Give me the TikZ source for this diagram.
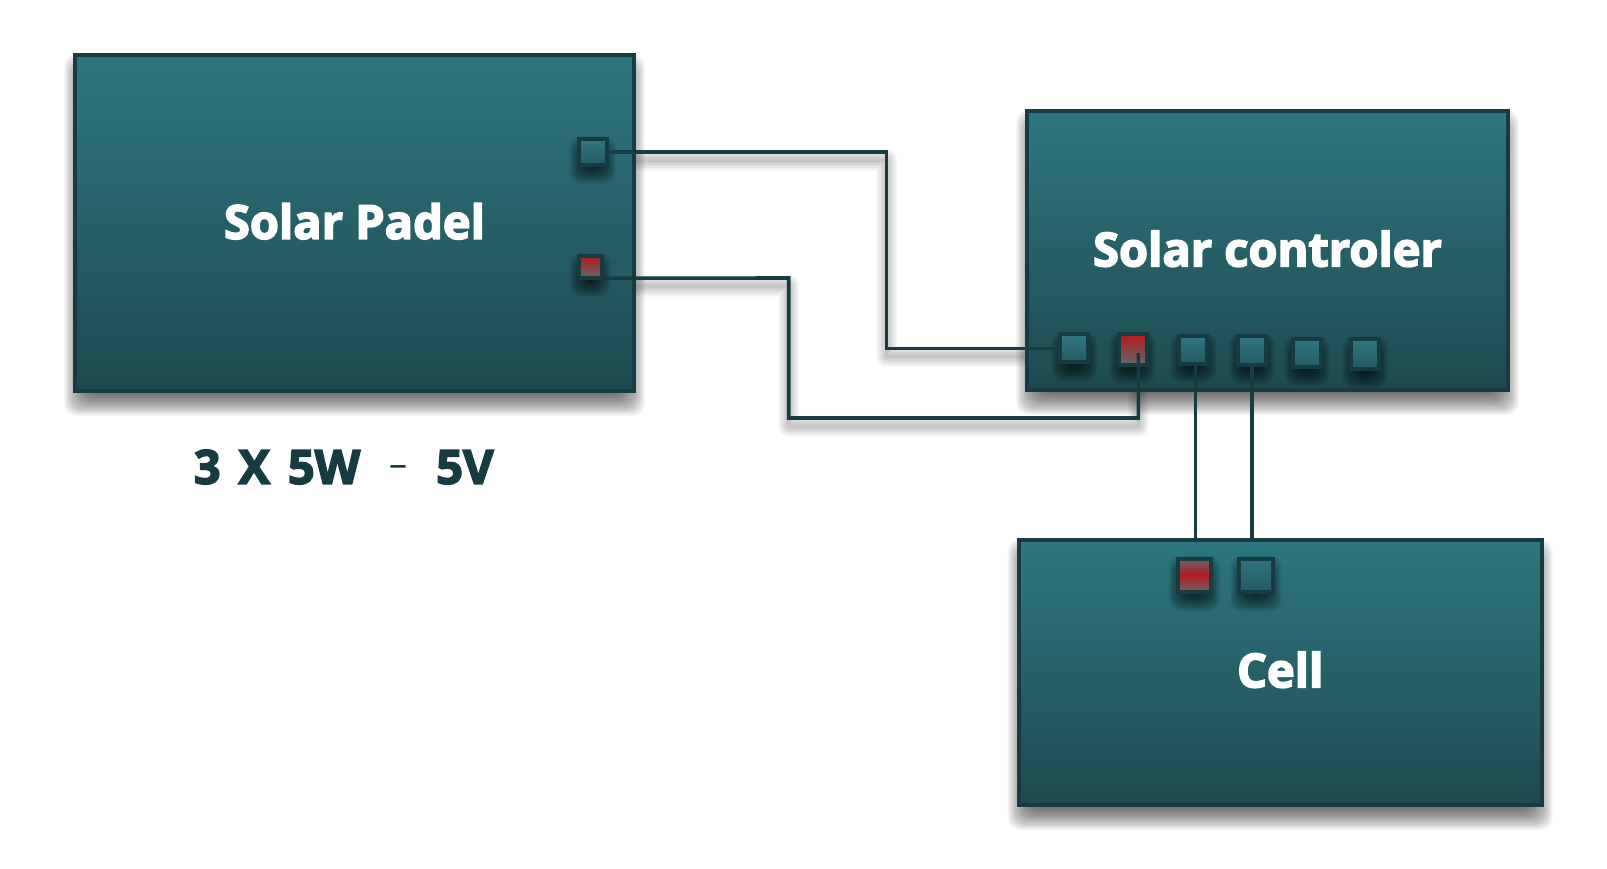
\documentclass[tikz,border=0pt]{standalone}
\usepackage{fontspec}
\setmainfont{Open Sans}[BoldFeatures={FakeBold=3.4}]
\usetikzlibrary{positioning}
\pgfdeclarelayer{shade}
\pgfdeclarelayer{base}
\pgfsetlayers{shade,base,main}

\definecolor{edgeteal}{HTML}{163C42}
\definecolor{topteal}{HTML}{2E777F}
\definecolor{lowteal}{HTML}{1E4A50}
\definecolor{portlow}{HTML}{245A61}
\definecolor{portred}{HTML}{B01C1C}
\definecolor{portgrey}{HTML}{66666A}

\newcommand\softshadow[4]{%
    \foreach \e in {-10,...,10} {
        \pgfmathsetmacro\d{\e/10*#3}
        \fill[black, opacity=#4, rounded corners=#3pt]
            ([xshift=-\d pt+2pt, yshift=\d pt-#2 pt]#1.north west) rectangle
            ([xshift=\d pt-2pt, yshift=-\d pt-#2 pt]#1.south east);
    }
}
\newcommand\wireshadow[1]{%
    \foreach \w in {3,6,...,21} {
        \draw[black, opacity=.035, line width=\w pt, line join=round,
            transform canvas={yshift=-8pt}] #1;
    }
}

\begin{document}
\begin{tikzpicture}[
    x=1pt,
    y=-1pt,
    panel/.style={
        draw=edgeteal,
        line width=4pt,
        top color=topteal,
        bottom color=lowteal,
        anchor=north west,
        inner sep=0pt,
        outer sep=0pt,
        align=center,
        text=white,
        text depth=4pt,
        font=\fontsize{47}{50}\selectfont\bfseries
    },
    port/.style={
        draw=edgeteal,
        line width=4pt,
        top color=topteal,
        bottom color=portlow,
        inner sep=0pt,
        outer sep=0pt,
        minimum width=28pt,
        minimum height=28pt
    },
    redport/.style={
        port,
        top color=portred,
        bottom color=portgrey
    },
    wire/.style={draw=edgeteal, line width=3.6pt}
]
\useasboundingbox (0,0) rectangle (1607,868);

\begin{pgfonlayer}{base}
\node[panel, minimum width=559pt, minimum height=336pt] (padel) at (75,55) {Solar Padel};
\node[panel, minimum width=481pt, minimum height=279pt] (controler) at (1027,111) {Solar controler};
\node[panel, minimum width=523pt, minimum height=265pt, text depth=6pt] (cell) at (1018.7,540) {Cell};
\end{pgfonlayer}

\node[port, minimum height=26pt] (padelA) at (592.7,152) {};
\node[redport, minimum width=23pt, minimum height=22.5pt] (padelB) at (590,267) {};

\node[port] (ctlA) at (1074.2,348.4) {};
\node[redport, minimum height=30.5pt, right=30.3pt of ctlA, yshift=-1.3pt] (ctlB) {};
\node[port, right=32.8pt of ctlB] (ctlC) {};
\node[port, minimum height=29.8pt, right=30.6pt of ctlC, yshift=-.7pt] (ctlD) {};
\node[port, right=27pt of ctlD, yshift=-3pt] (ctlE) {};
\node[port, minimum height=30pt, right=30.3pt of ctlE, yshift=-1pt] (ctlF) {};

\node[port, minimum width=33.5pt, minimum height=33.5pt, top color=portgrey,
    bottom color=portgrey, middle color=portred] (cellA) at (1194.5,575.3) {};
\node[port, minimum width=33.5pt, minimum height=33.5pt, right=28pt of cellA] (cellB) {};

\node[text=edgeteal, font=\fontsize{47}{50}\selectfont\bfseries] (rating) at (343.7,467)
    {3\hspace{18pt}X\hspace{18pt}5W\hspace{29pt}\raisebox{7pt}{\fontsize{36}{38}\selectfont\mdseries –}\hspace{29pt}5V};

\coordinate (bendA) at (886.5,152);
\coordinate (bendB) at (788.7,278);
\coordinate (bendC) at (1138.3,418);
\coordinate (tipB) at (1138.3,353);

\begin{pgfonlayer}{shade}
\softshadow{padel}{12}{13}{.045}
\softshadow{controler}{12}{13}{.045}
\softshadow{cell}{12}{13}{.045}
\wireshadow{(padelA.east) -- (bendA) |- (ctlA.west)}
\wireshadow{(padelB.south east) -- (bendB) |- (bendC) -- (tipB)}
\end{pgfonlayer}

\begin{pgfonlayer}{base}
\softshadow{padelA}{8}{11}{.055}
\softshadow{padelB}{8}{11}{.055}
\softshadow{ctlA}{8}{11}{.055}
\softshadow{ctlB}{8}{11}{.055}
\softshadow{ctlC}{8}{11}{.055}
\softshadow{ctlD}{8}{11}{.055}
\softshadow{ctlE}{8}{11}{.055}
\softshadow{ctlF}{8}{11}{.055}
\softshadow{cellA}{8}{11}{.055}
\softshadow{cellB}{8}{11}{.055}
\end{pgfonlayer}

\draw[wire] (padelA.east) -- (bendA) |- (ctlA.west);
\draw[wire] (padelB.south east) -- (bendB) |- (bendC) -- (tipB);
\draw[wire] ([xshift=2pt]ctlC.south) -- ([xshift=2pt]ctlC.south |- cell.north);
\draw[wire] (ctlD.south) -- (ctlD.south |- cell.north);

\end{tikzpicture}
\end{document}
